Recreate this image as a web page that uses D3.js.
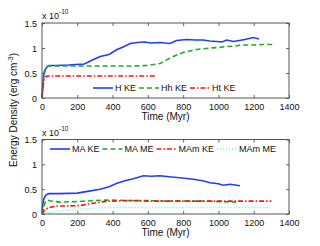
<!DOCTYPE html>
<html>
<head>
<meta charset="utf-8">
<script src="https://cdn.jsdelivr.net/npm/d3@7"></script>
<style>
  body { margin: 0; background: #fff; }
  text { font-family: "Liberation Sans", Arial, sans-serif; font-size: 9px; fill: #111; }
</style>
</head>
<body>
<div id="chart"></div>
<script>
// top panel series (values in units of 1e-10 erg cm^-3)
const hKeT = [0, 5, 10, 20, 30, 40, 80, 150, 240, 280, 330, 380, 425, 460, 500, 540, 580, 620, 669, 725, 763, 820, 870, 914, 950, 990, 1020, 1047, 1085, 1150, 1198, 1230];
const hKeV = [0, 0.25, 0.45, 0.58, 0.63, 0.65, 0.65, 0.66, 0.68, 0.75, 0.83, 0.87, 0.97, 1.02, 1.09, 1.11, 1.12, 1.10, 1.11, 1.09, 1.15, 1.17, 1.16, 1.16, 1.14, 1.13, 1.12, 1.16, 1.13, 1.17, 1.21, 1.18];
const hhKeT = [0, 5, 10, 20, 30, 40, 100, 200, 300, 400, 500, 600, 669, 700, 744, 800, 850, 877, 952, 1000, 1047, 1100, 1122, 1200, 1250, 1311];
const hhKeV = [0, 0.3, 0.5, 0.6, 0.63, 0.64, 0.64, 0.64, 0.64, 0.64, 0.64, 0.65, 0.69, 0.75, 0.83, 0.91, 0.95, 0.97, 1.0, 1.01, 1.03, 1.04, 1.06, 1.06, 1.07, 1.07];
const htKeT = [0, 5, 10, 20, 30, 100, 300, 500, 641];
const htKeV = [0, 0.2, 0.35, 0.42, 0.44, 0.44, 0.44, 0.44, 0.44];

// bottom panel series
const maKeT = [0, 5, 10, 20, 30, 40, 100, 200, 250, 329, 380, 425, 470, 518, 575, 620, 669, 720, 782, 858, 910, 952, 1000, 1027, 1066, 1122];
const maKeV = [0, 0.2, 0.3, 0.37, 0.4, 0.41, 0.41, 0.42, 0.45, 0.5, 0.55, 0.62, 0.67, 0.71, 0.77, 0.76, 0.77, 0.75, 0.73, 0.70, 0.67, 0.63, 0.61, 0.58, 0.6, 0.57];
const maMeT = [0, 10, 20, 30, 50, 100, 200, 300, 350, 400, 500, 600, 700, 800, 900, 1000, 1100];
const maMeV = [0, 0.15, 0.25, 0.28, 0.26, 0.24, 0.25, 0.27, 0.28, 0.28, 0.27, 0.27, 0.26, 0.26, 0.26, 0.25, 0.24];
const mamKeT = [0, 10, 20, 40, 80, 120, 215, 260, 311, 350, 400, 500, 600, 800, 1000, 1200, 1300];
const mamKeV = [0, 0.06, 0.1, 0.13, 0.16, 0.16, 0.17, 0.2, 0.23, 0.25, 0.26, 0.27, 0.26, 0.26, 0.26, 0.26, 0.26];
const mamMeT = [0, 10, 30, 45, 120, 215, 311, 400, 500, 700, 900, 1100, 1300];
const mamMeV = [0, 0.02, 0.03, 0.04, 0.07, 0.09, 0.12, 0.13, 0.13, 0.13, 0.13, 0.13, 0.13];

const xTicks = [0, 200, 400, 600, 800, 1000, 1200, 1400];
const yTicks = [0, 0.5, 1, 1.5];
const yTickLabels = ["0", "0.5", "1", "1.5"];

const topSeries = [
  {name: "H KE", t: hKeT, v: hKeV, color: "#1f3ff5", dash: null},
  {name: "Hh KE", t: hhKeT, v: hhKeV, color: "#22aa22", dash: "5,3"},
  {name: "Ht KE", t: htKeT, v: htKeV, color: "#ff1010", dash: "5,2,1.5,2"}
];
const bottomSeries = [
  {name: "MA KE", t: maKeT, v: maKeV, color: "#1f3ff5", dash: null},
  {name: "MA ME", t: maMeT, v: maMeV, color: "#22aa22", dash: "5,3"},
  {name: "MAm KE", t: mamKeT, v: mamKeV, color: "#ff1010", dash: "5,2,1.5,2"},
  {name: "MAm ME", t: mamMeT, v: mamMeV, color: "#55ffcc", dash: "1,2"}
];

const W = 320, H = 246;
const svg = d3.select("#chart").append("svg").attr("width", W).attr("height", H);

const x = d3.scaleLinear().domain([0, 1400]).range([42, 289]);

function panel(series, top, bottom, legendX, legendY) {
  const y = d3.scaleLinear().domain([0, 1.5]).range([bottom, top]);
  const g = svg.append("g");

  // lines
  const line = d3.line().x(d => x(d[0])).y(d => y(d[1]));
  series.forEach(s => {
    g.append("path")
      .datum(s.t.map((t, i) => [t, s.v[i]]))
      .attr("d", line)
      .attr("fill", "none")
      .attr("stroke", s.color)
      .attr("stroke-width", 1.6)
      .attr("stroke-dasharray", s.dash);
  });

  // axes, ticks inside on all sides
  const axB = g.append("g").attr("transform", `translate(0,${bottom})`)
    .call(d3.axisBottom(x).tickValues(xTicks).tickSize(-3).tickPadding(6).tickFormat(d3.format("d")));
  const axT = g.append("g").attr("transform", `translate(0,${top})`)
    .call(d3.axisTop(x).tickValues(xTicks).tickSize(-3).tickFormat(""));
  const axL = g.append("g").attr("transform", `translate(${x.range()[0]},0)`)
    .call(d3.axisLeft(y).tickValues(yTicks).tickSize(-3).tickPadding(5)
      .tickFormat((d, i) => yTickLabels[i]));
  const axR = g.append("g").attr("transform", `translate(${x.range()[1]},0)`)
    .call(d3.axisRight(y).tickValues(yTicks).tickSize(-3).tickFormat(""));
  [axB, axT, axL, axR].forEach(a => {
    a.select(".domain").remove();
    a.selectAll("line").attr("stroke", "#666");
    a.selectAll("text").attr("font-size", 9).attr("font-family", "Liberation Sans, Arial, sans-serif").attr("fill", "#111");
  });
  axL.selectAll("text").attr("dy", "0.35em");

  g.append("rect")
    .attr("x", x.range()[0]).attr("y", top)
    .attr("width", x.range()[1] - x.range()[0]).attr("height", bottom - top)
    .attr("fill", "none").attr("stroke", "#555").attr("stroke-width", 1);

  // exponent label
  const ex = g.append("text").attr("x", x.range()[0]).attr("y", top - 4);
  ex.append("tspan").text("x 10");
  ex.append("tspan").attr("dy", -5).attr("font-size", 6.5).text("-10");

  g.append("text")
    .attr("x", (x.range()[0] + x.range()[1]) / 2).attr("y", bottom + 22)
    .attr("text-anchor", "middle").style("font-size", "10px").text("Time (Myr)");

  // legend
  let lx = legendX;
  series.forEach(s => {
    g.append("line")
      .attr("x1", lx).attr("x2", lx + 20).attr("y1", legendY).attr("y2", legendY)
      .attr("stroke", s.color).attr("stroke-width", 1.6)
      .attr("stroke-dasharray", s.dash);
    const t = g.append("text").attr("x", lx + 22).attr("y", legendY + 3.2).text(s.name);
    lx += 22 + t.node().getComputedTextLength() + 3;
  });
}

panel(topSeries, 23, 98, 93, 88);
panel(bottomSeries, 139.5, 214, 50, 149);

// shared y label
const yl = svg.append("text")
  .attr("transform", "translate(17,110) rotate(-90)")
  .attr("text-anchor", "middle").style("font-size", "10px");
yl.append("tspan").text("Energy Density (erg cm");
yl.append("tspan").attr("dy", -4).attr("font-size", 7).text("-3");
yl.append("tspan").attr("dy", 4).text(")");
</script>
</body>
</html>
